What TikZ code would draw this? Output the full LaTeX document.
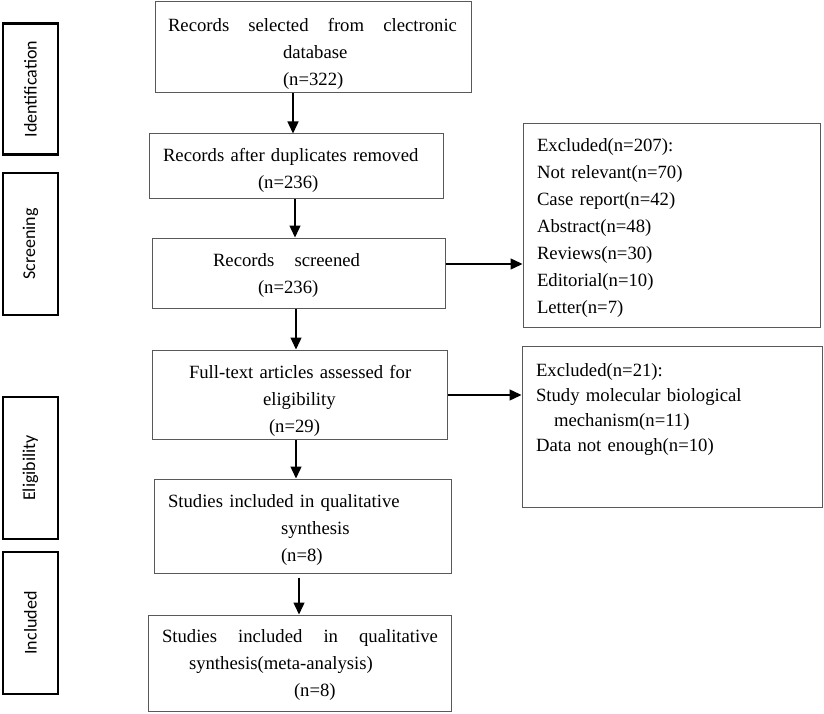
\documentclass[tikz,border=0pt]{standalone}
\usepackage{fontspec}
\setmainfont{Liberation Serif}
\newfontfamily\stagefont{Carlito}
\usetikzlibrary{arrows.meta}
\newcommand{\upstrut}[1]{\rule{0pt}{#1}}
\newcommand{\dnstrut}[1]{\rule[-#1]{0pt}{#1}}
\tikzset{
  flowbox/.style={draw=black!65, line width=1pt, inner sep=0pt, align=left, font=\fontsize{18.7}{27}\selectfont},
  stagebox/.style={draw=black, line width=2.4pt, inner sep=0pt, minimum width=55pt},
  stagetext/.style={font=\stagefont\fontsize{18}{20}\selectfont, rotate=90},
  flowarrow/.style={draw=black, line width=1.4pt, -{Triangle[length=12pt,width=11pt]}}
}
\begin{document}
\begin{tikzpicture}[x=1pt,y=-1pt]
\useasboundingbox (0,0) rectangle (824,714);
% stage boxes
\node[stagebox, minimum height=131pt] (sid) at (30.5,89) {};
\node[stagetext] (tid) at (sid.center) {Identification};
\node[stagebox, minimum height=142pt] (ssc) at (30.5,244) {};
\node[stagetext] (tsc) at (ssc.center) {Screening};
\node[stagebox, minimum height=142pt] (sel) at (30.5,468) {};
\node[stagetext] (tel) at (sel.center) {Eligibility};
\node[stagebox, minimum height=142pt] (sin) at (30.5,623) {};
\node[stagetext] (tin) at (sin.center) {Included};
% main flow boxes
\node[flowbox, minimum width=316pt, minimum height=91pt, text width=316pt] (b1) at (313,47.5)
  {\upstrut{26pt}\hspace*{13pt}\makebox[289pt]{Records\hfill selected\hfill from\hfill clectronic}\\\hspace*{128pt}database\\\hspace*{128pt}(n=322)};
\node[flowbox, minimum width=294pt, minimum height=65pt, text width=294pt] (b2) at (296,166.5)
  {\upstrut{21pt}\hspace*{14pt}Records after duplicates removed\\\hspace*{109pt}(n=236)};
\node[flowbox, minimum width=293pt, minimum height=70pt, text width=293pt] (b3) at (298.5,273)
  {\upstrut{18pt}\hspace*{61pt}\makebox[147pt]{Records\hfill screened}\\\hspace*{106pt}(n=236)};
\node[flowbox, minimum width=295pt, minimum height=89pt, text width=295pt] (b4) at (299.5,394.5)
  {\upstrut{26pt}\hspace*{37pt}Full-text articles assessed for\\\hspace*{111pt}eligibility\\\hspace*{117pt}(n=29)};
\node[flowbox, minimum width=297pt, minimum height=94pt, text width=297pt] (b5) at (302.5,526)
  {\upstrut{20pt}\hspace*{14pt}Studies included in qualitative\\\hspace*{127pt}synthesis\\\hspace*{127pt}(n=8)};
\node[flowbox, minimum width=303pt, minimum height=96pt, text width=303pt] (b6) at (299.5,663)
  {\upstrut{16pt}\hspace*{14pt}\makebox[276pt]{Studies\hfill included\hfill in\hfill qualitative}\\\hspace*{41pt}synthesis(meta-analysis)\\\hspace*{146pt}(n=8)};
% excluded boxes
\node[flowbox, minimum width=297pt, minimum height=203pt, text width=297pt] (e1) at (671.5,225.5)
  {\upstrut{18pt}\hspace*{14pt}Excluded(n=207):\\\hspace*{14pt}Not relevant(n=70)\\\hspace*{14pt}Case report(n=42)\\\hspace*{14pt}Abstract(n=48)\\\hspace*{14pt}Reviews(n=30)\\\hspace*{14pt}Editorial(n=10)\\\hspace*{14pt}Letter(n=7)};
\node[flowbox, minimum width=300pt, minimum height=161pt, text width=300pt,
  font=\fontsize{18.7}{25.3}\selectfont] (e2) at (672,426.5)
  {\hspace*{14pt}Excluded(n=21):\\\hspace*{14pt}Study molecular biological\\\hspace*{32pt}mechanism(n=11)\\\hspace*{14pt}Data not enough(n=10)\dnstrut{38pt}};
% arrows
\draw[flowarrow] (b1.south -| 293,0) -- (b2.north -| 293,0);
\draw[flowarrow] (b2.south -| 295,0) -- (b3.north -| 295,0);
\draw[flowarrow] (b3.south -| 296,0) -- (b4.north -| 296,0);
\draw[flowarrow] (b4.south -| 296,0) -- (b5.north -| 296,0);
\draw[flowarrow] ([yshift=-4pt]b5.south -| 299,0) -- (b6.north -| 299,0);
\draw[flowarrow] (b3.east |- 0,264) -- (e1.west |- 0,264);
\draw[flowarrow] (b4.east |- 0,395) -- (e2.west |- 0,395);
\end{tikzpicture}
\end{document}
